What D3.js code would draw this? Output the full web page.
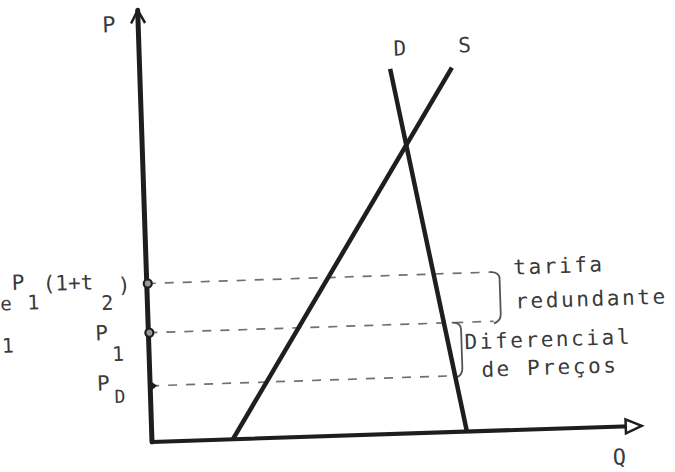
<!DOCTYPE html>
<html>
<head>
<meta charset="utf-8">
<script src="https://cdn.jsdelivr.net/npm/d3@7"></script>
<style>
body{margin:0;background:#fff;}
svg{display:block;background:#fff;}
text{font-family:"DejaVu Sans Mono",monospace;fill:#3a3a3a;}
</style>
</head>
<body>
<svg class="chart" width="675" height="472"></svg>
<script>
// axis extents (abstract units)
var qMax = 100, pMax = 100;
// supply and demand lines, end points
var supplyQ = [16.5, 63.7], supplyP = [0, 84.3];
var demandQ = [51.1, 64.3], demandP = [84.5, 0];
// price levels on the P axis
var levelNames = ["P1(1+t2)", "P1", "PD"];
var levelP = [36.7, 25.3, 13.0];
var levelEndQ = [70.5, 70.5, 62.6];
// braces: [top level, bottom level, q position]
var braceTop = [0, 1], braceBottom = [1, 2], braceQ = [72, 63.8];
var braceText = [["tarifa", "redundante"], ["Diferencial", "de Preços"]];

var origin = [152, 442], tilt = -1.9;
var width = 490, height = 432;

var x = d3.scaleLinear().domain([0, qMax]).range([0, width]);
var y = d3.scaleLinear().domain([0, pMax]).range([0, -height]);

var svg = d3.select('.chart');
var chart = svg.append('g')
	.attr('transform', 'translate(' + origin[0] + ',' + origin[1] + ') rotate(' + tilt + ')');

var ink = '#1e1e1e';

// dashed price lines
levelP.forEach(function(p, i){
	chart.append('line')
		.attr('x1', x(0)).attr('y1', y(p))
		.attr('x2', x(levelEndQ[i])).attr('y2', y(p))
		.attr('stroke', '#707070')
		.attr('stroke-width', 1.7)
		.attr('stroke-dasharray', '9,9');
});

// braces
braceQ.forEach(function(q, i){
	var bx = x(q), yt = y(levelP[braceTop[i]]), yb = y(levelP[braceBottom[i]]);
	chart.append('path')
		.attr('d', 'M' + (bx - 9) + ',' + yt + ' Q' + bx + ',' + yt + ' ' + bx + ',' + (yt + 7) +
			' L' + bx + ',' + (yb - 7) + ' Q' + bx + ',' + yb + ' ' + (bx - 7) + ',' + (yb + 2))
		.attr('fill', 'none')
		.attr('stroke', '#555')
		.attr('stroke-width', 1.8);
});

// axes
chart.append('line')
	.attr('x1', x(0)).attr('y1', y(0))
	.attr('x2', x(0)).attr('y2', y(pMax))
	.attr('stroke', ink).attr('stroke-width', 5).attr('stroke-linecap', 'round');
chart.append('line')
	.attr('x1', x(0)).attr('y1', y(0))
	.attr('x2', x(qMax) - 4).attr('y2', y(0))
	.attr('stroke', ink).attr('stroke-width', 4).attr('stroke-linecap', 'round');
// arrow heads
chart.append('path')
	.attr('d', 'M' + (x(0) - 7) + ',' + (y(pMax) + 13) + ' L' + x(0) + ',' + y(pMax) + ' L' + (x(0) + 7) + ',' + (y(pMax) + 13))
	.attr('fill', 'none').attr('stroke', ink).attr('stroke-width', 2.5);
chart.append('path')
	.attr('d', 'M' + (x(qMax) - 16) + ',' + (y(0) - 7) + ' L' + x(qMax) + ',' + y(0) + ' L' + (x(qMax) - 16) + ',' + (y(0) + 7) + 'Z')
	.attr('fill', '#fff').attr('stroke', ink).attr('stroke-width', 2.5);

// supply and demand
var line = d3.line().x(function(d){ return x(d[0]); }).y(function(d){ return y(d[1]); });
chart.append('path')
	.datum(d3.zip(supplyQ, supplyP))
	.attr('d', line)
	.attr('fill', 'none').attr('stroke', ink).attr('stroke-width', 4.5);
chart.append('path')
	.datum(d3.zip(demandQ, demandP))
	.attr('d', line)
	.attr('fill', 'none').attr('stroke', ink).attr('stroke-width', 4.5);

// markers on the P axis
levelP.forEach(function(p, i){
	if(i < 2){
		chart.append('circle')
			.attr('cx', x(0) + 1).attr('cy', y(p)).attr('r', 4)
			.attr('fill', '#999').attr('stroke', ink).attr('stroke-width', 2.2);
	}else{
		chart.append('path')
			.attr('d', 'M' + (x(0) - 1) + ',' + (y(p) - 6) + ' L' + (x(0) + 7) + ',' + y(p) + ' L' + (x(0) - 1) + ',' + (y(p) + 6) + 'Z')
			.attr('fill', ink);
	}
});

// curve and axis labels
function label(txt, tx, ty, size){
	return chart.append('text').attr('x', tx).attr('y', ty).style('font-size', size + 'px').text(txt);
}
label('P', x(0) - 36, y(pMax) + 21, 22);
label('Q', x(qMax) - 30, y(0) + 38, 22);
label('D', x(demandQ[0]) + 4, y(demandP[0]) - 13, 21);
label('S', x(supplyQ[1]) + 7, y(supplyP[1]) - 15, 21);

// left labels: P1(1+t2), P1, PD
var lv = y(levelP[0]);
label('e', x(0) - 147, lv + 22, 19);
label('P', x(0) - 135, lv + 2, 21);
label('1', x(0) - 120, lv + 22, 20);
label('(1+t', x(0) - 104, lv + 4, 21);
label('2', x(0) - 46, lv + 25, 20);
label(')', x(0) - 29, lv + 8, 21);

var l1 = y(levelP[1]);
label('1', x(0) - 147, l1 + 15, 20);
label('P', x(0) - 53, l1 + 6, 21);
label('1', x(0) - 37, l1 + 27, 20);

var ld = y(levelP[2]);
label('P', x(0) - 53, ld + 3, 21);
label('D', x(0) - 36, ld + 16, 18);

// brace captions
braceText.forEach(function(lines, i){
	var bx = x(braceQ[i]);
	var yt = y(levelP[braceTop[i]]), yb = y(levelP[braceBottom[i]]);
	var off = i === 0 ? 14 : 3;
	chart.append('text')
		.attr('x', bx + off).attr('y', i === 0 ? yt + 3 : yt + 27)
		.style('font-size', '21px').style('letter-spacing', '2.6px')
		.text(lines[0]);
	chart.append('text')
		.attr('x', bx + off + (i === 0 ? 1 : 16)).attr('y', i === 0 ? yb - 12 : yb + 2)
		.style('font-size', '21px').style('letter-spacing', '2.6px')
		.text(lines[1]);
});
</script>
</body>
</html>
